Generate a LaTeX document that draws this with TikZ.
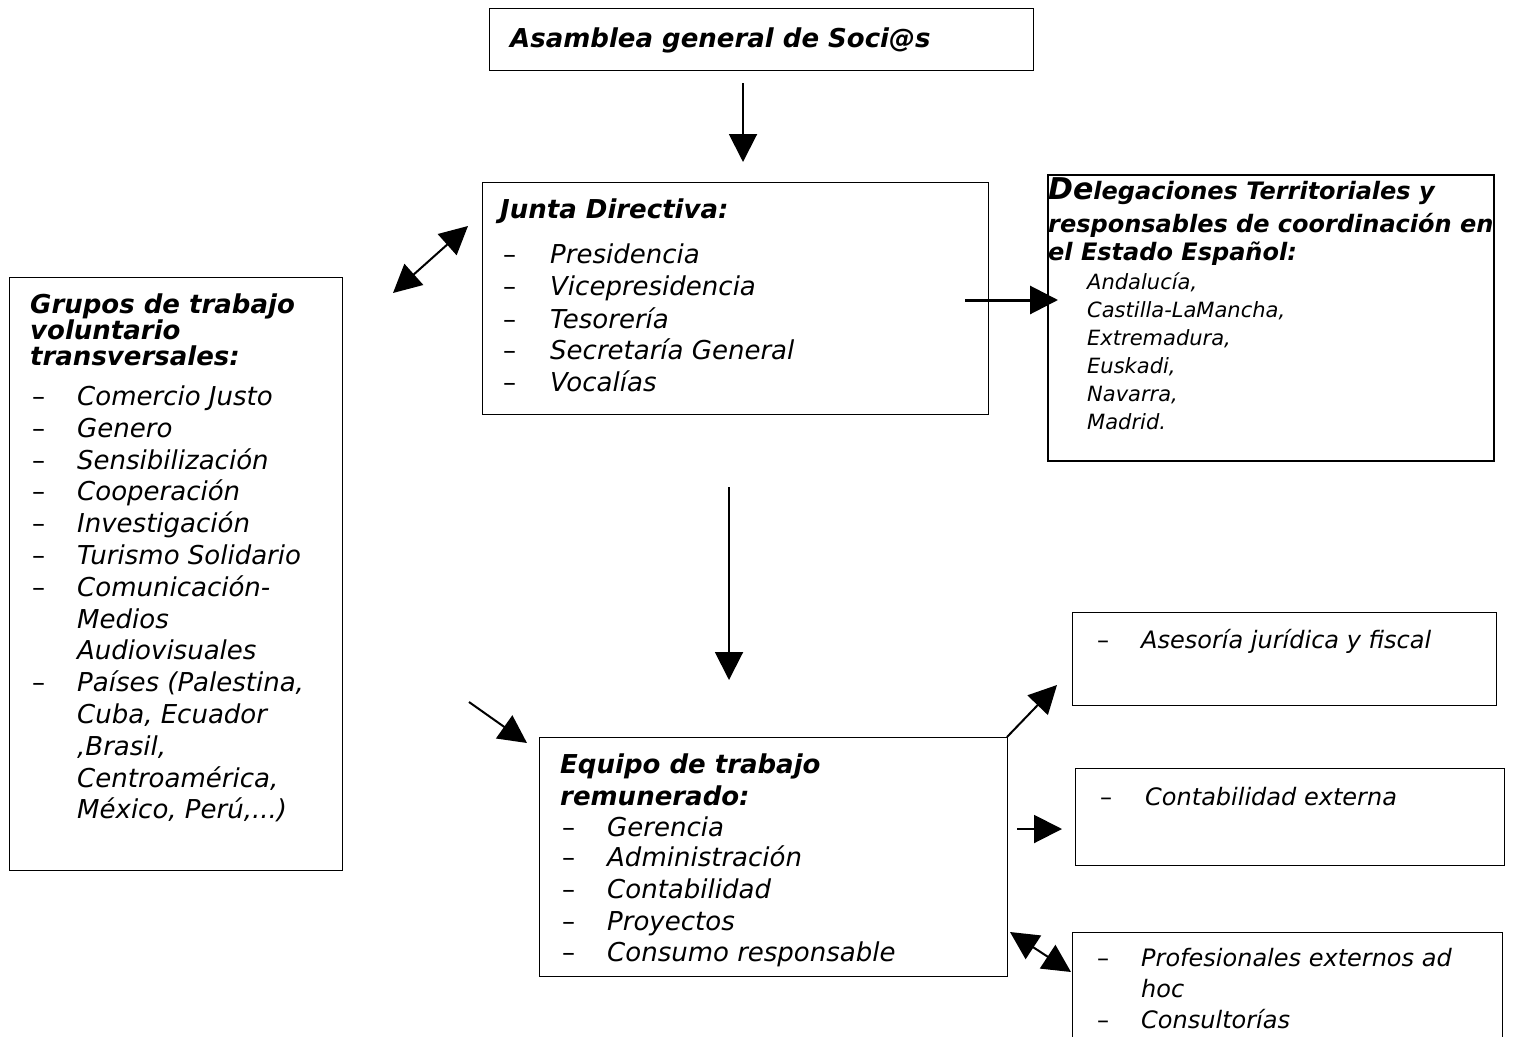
\documentclass[tikz,border=0pt]{standalone}
\usepackage{fontspec}
\setmainfont{DejaVu Sans}[BoldFont={DejaVu Sans Bold},ItalicFont={DejaVu Sans Oblique},BoldItalicFont={DejaVu Sans Bold Oblique}]
\usetikzlibrary{arrows.meta}
\begin{document}
\begin{tikzpicture}[x=1pt,y=-1pt,
  box/.style={draw,line width=1pt,anchor=north west,inner sep=0pt,outer sep=0pt},
  ttl/.style={anchor=base west,inner sep=0pt,font=\fontsize{26}{32}\selectfont\bfseries\itshape},
  itm/.style={anchor=base west,inner sep=0pt,font=\fontsize{26}{32}\selectfont\itshape},
  dsh/.style={anchor=base west,inner sep=0pt,font=\fontsize{26}{32}\selectfont},
  sttl/.style={anchor=base west,inner sep=0pt,font=\fontsize{24}{28}\selectfont\bfseries\itshape},
  sitm/.style={anchor=base west,inner sep=0pt,font=\fontsize{21}{28}\selectfont\itshape},
  mitm/.style={anchor=base west,inner sep=0pt,font=\fontsize{24}{31}\selectfont\itshape},
  mdsh/.style={anchor=base west,inner sep=0pt,font=\fontsize{24}{31}\selectfont},
  arr/.style={line width=2pt,-{Triangle[length=28pt,width=28pt]}},
  darr/.style={line width=2pt,{Triangle[length=28pt,width=28pt]}-{Triangle[length=28pt,width=28pt]}}]
\useasboundingbox (0,0) rectangle (1515,1036);

% boxes
\node[box,minimum width=544pt,minimum height=62pt] (asam) at (489,8) {};
\node[box,minimum width=506pt,minimum height=232pt] (junta) at (482,182) {};
\node[box,line width=2pt,minimum width=446pt,minimum height=286pt] (deleg) at (1048,175) {};
\node[box,minimum width=333pt,minimum height=593pt] (grupos) at (9,277) {};
\node[box,minimum width=468pt,minimum height=239pt] (equipo) at (539,737) {};
\node[box,minimum width=424pt,minimum height=93pt] (ases) at (1072,612) {};
\node[box,minimum width=429pt,minimum height=97pt] (conte) at (1075,768) {};
\node[box,minimum width=430pt,minimum height=120pt] (prof) at (1072,932) {};

% Asamblea
\node[ttl] (asamT) at (510,47) {Asamblea general de Soci@s};

% Junta
\node[ttl] (juntaT) at (500,218) {Junta Directiva:};
\node[dsh] (jd1) at (503,263) {–}; \node[itm] (j1) at (550,263) {Presidencia};
\node[dsh] (jd2) at (503,295) {–}; \node[itm] (j2) at (550,295) {Vicepresidencia};
\node[dsh] (jd3) at (503,328) {–}; \node[itm] (j3) at (550,328) {Tesorería};
\node[dsh] (jd4) at (503,359) {–}; \node[itm] (j4) at (550,359) {Secretaría General};
\node[dsh] (jd5) at (503,391) {–}; \node[itm] (j5) at (550,391) {Vocalías};

% Delegaciones
\node[sttl] (dT1) at (1048,199) {{\fontsize{30}{28}\selectfont De}legaciones Territoriales y};
\node[sttl] (dT2) at (1048,232) {responsables de coordinación en};
\node[sttl] (dT3) at (1048,260) {el Estado Español:};
\node[sitm] (d1) at (1087,289) {Andalucía,};
\node[sitm] (d2) at (1087,317) {Castilla-LaMancha,};
\node[sitm] (d3) at (1087,345) {Extremadura,};
\node[sitm] (d4) at (1087,373) {Euskadi,};
\node[sitm] (d5) at (1087,401) {Navarra,};
\node[sitm] (d6) at (1087,429) {Madrid.};

% Grupos
\node[ttl] (gT1) at (30,313) {Grupos de trabajo};
\node[ttl] (gT2) at (30,339) {voluntario};
\node[ttl] (gT3) at (30,365) {transversales:};
\node[dsh] (gd1) at (32,405) {–}; \node[itm] (g1) at (77,405) {Comercio Justo};
\node[dsh] (gd2) at (32,437) {–}; \node[itm] (g2) at (77,437) {Genero};
\node[dsh] (gd3) at (32,469) {–}; \node[itm] (g3) at (77,469) {Sensibilización};
\node[dsh] (gd4) at (32,500) {–}; \node[itm] (g4) at (77,500) {Cooperación};
\node[dsh] (gd5) at (32,532) {–}; \node[itm] (g5) at (77,532) {Investigación};
\node[dsh] (gd6) at (32,564) {–}; \node[itm] (g6) at (77,564) {Turismo Solidario};
\node[dsh] (gd7) at (32,596) {–}; \node[itm] (g7) at (77,596) {Comunicación-};
\node[itm] (g8) at (77,628) {Medios};
\node[itm] (g9) at (77,659) {Audiovisuales};
\node[dsh] (gd10) at (32,691) {–}; \node[itm] (g10) at (77,691) {Países (Palestina,};
\node[itm] (g11) at (77,723) {Cuba, Ecuador};
\node[itm] (g12) at (77,755) {,Brasil,};
\node[itm] (g13) at (77,787) {Centroamérica,};
\node[itm] (g14) at (77,818) {México, Perú,...)};

% Equipo
\node[ttl] (eT1) at (560,773) {Equipo de trabajo};
\node[ttl] (eT2) at (560,805) {remunerado:};
\node[dsh] (ed1) at (562,836) {–}; \node[itm] (e1) at (607,836) {Gerencia};
\node[dsh] (ed2) at (562,866) {–}; \node[itm] (e2) at (607,866) {Administración};
\node[dsh] (ed3) at (562,898) {–}; \node[itm] (e3) at (607,898) {Contabilidad};
\node[dsh] (ed4) at (562,930) {–}; \node[itm] (e4) at (607,930) {Proyectos};
\node[dsh] (ed5) at (562,961) {–}; \node[itm] (e5) at (607,961) {Consumo responsable};

% External
\node[mdsh] (ad1) at (1097,648) {–}; \node[mitm] (a1) at (1141,648) {Asesoría jurídica y fiscal};
\node[mdsh] (cd1) at (1100,805) {–}; \node[mitm] (c1) at (1145,805) {Contabilidad externa};
\node[mdsh] (pd1) at (1097,966) {–}; \node[mitm] (p1) at (1141,966) {Profesionales externos ad};
\node[mitm] (p2) at (1141,997) {hoc};
\node[mdsh] (pd3) at (1097,1028) {–}; \node[mitm] (p3) at (1141,1028) {Consultorías};

% connector end points
\coordinate (c1a) at (743,83);   \coordinate (c1b) at (743,162);
\coordinate (c2a) at (393,293);  \coordinate (c2b) at (468,226);
\coordinate (c3a) at (965,300);  \coordinate (c3b) at (1058,300);
\coordinate (c4a) at (729,487);  \coordinate (c4b) at (729,680);
\coordinate (c5a) at (469,702);  \coordinate (c5b) at (527,743);
\coordinate (c6b) at (1057,685);
\coordinate (c7a) at (1017,829); \coordinate (c7b) at (1062,829);
\coordinate (c8a) at (1010,932); \coordinate (c8b) at (1071,972);

\draw[arr] (c1a) -- (c1b);
\draw[darr] (c2a) -- (c2b);
\draw[arr,line width=3pt] (c3a) -- (c3b);
\draw[arr] (c4a) -- (c4b);
\draw[arr] (c5a) -- (c5b);
\draw[arr] (equipo.north east) -- (c6b);
\draw[arr] (c7a) -- (c7b);
\draw[darr] (c8a) -- (c8b);
\end{tikzpicture}
\end{document}
